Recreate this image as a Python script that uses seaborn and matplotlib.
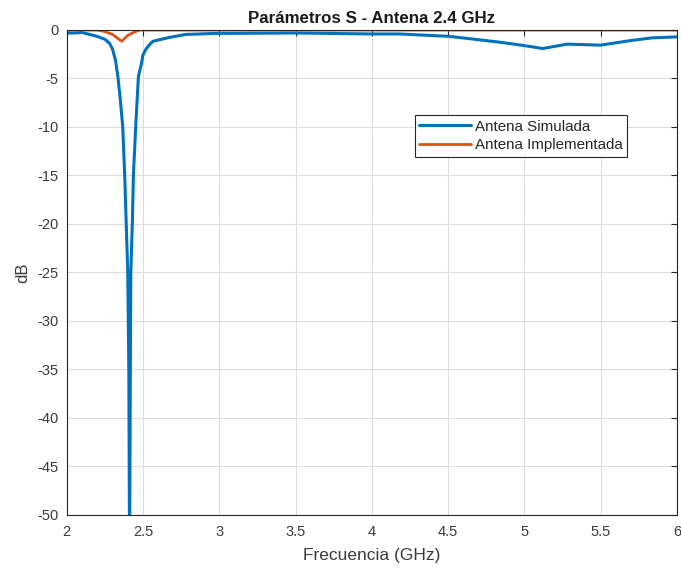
import matplotlib
matplotlib.use("Agg")
import matplotlib.pyplot as plt
import seaborn as sns
import pandas as pd

# ---- data ----
freq_sim = [2.00, 2.05, 2.10, 2.15, 2.20, 2.25, 2.28, 2.30, 2.32, 2.335, 2.35, 2.367,
            2.38, 2.39, 2.40, 2.407, 2.412, 2.417, 2.42, 2.43, 2.437, 2.452, 2.47,
            2.49, 2.50, 2.52, 2.54, 2.566, 2.62, 2.675, 2.78, 2.96, 3.5, 4.0, 4.18,
            4.51, 4.84, 5.0, 5.12, 5.28, 5.5, 5.71, 5.84, 6.0]
db_sim = [-0.35, -0.35, -0.3, -0.5, -0.7, -1.0, -1.4, -2.0, -3.2, -4.8, -7.0, -10,
          -15, -20, -25, -35, -55, -35, -25, -20, -15, -10, -4.8,
          -3.5, -2.6, -2.0, -1.6, -1.2, -1.0, -0.8, -0.5, -0.4, -0.35, -0.45, -0.45,
          -0.7, -1.3, -1.65, -1.95, -1.5, -1.6, -1.1, -0.85, -0.75]

freq_imp = [2.0, 2.2, 2.25, 2.30, 2.36, 2.40, 2.45, 2.48, 6.0]
db_imp = [-0.05, -0.05, -0.2, -0.5, -1.2, -0.6, -0.2, -0.05, -0.05]

series_names = ["Antena Simulada", "Antena Implementada"]
colors = ["#0072BD", "#D95319"]

xticks = [2, 2.5, 3, 3.5, 4, 4.5, 5, 5.5, 6]
xtick_labels = ["2", "2.5", "3", "3.5", "4", "4.5", "5", "5.5", "6"]
yticks = [0, -5, -10, -15, -20, -25, -30, -35, -40, -45, -50]

title = "Parámetros S - Antena 2.4 GHz"
xlabel = "Frecuencia (GHz)"
ylabel = "dB"

# ---- plot ----
sns.set_theme(style="white")
plt.rcParams["font.family"] = ["Liberation Sans", "DejaVu Sans"]
plt.rcParams["axes.unicode_minus"] = False

fig = plt.figure(figsize=(6.81, 5.69), dpi=100)
ax = fig.add_axes([0.098, 0.095, 0.896, 0.853])

sns.lineplot(x=freq_sim, y=db_sim, ax=ax, color=colors[0], linewidth=2.2,
             label=series_names[0], estimator=None, sort=False)
sns.lineplot(x=freq_imp, y=db_imp, ax=ax, color=colors[1], linewidth=2.0,
             label=series_names[1], estimator=None, sort=False)

ax.set_xlim(2, 6)
ax.set_ylim(-50, 0)
ax.set_xticks(xticks)
ax.set_xticklabels(xtick_labels)
ax.set_yticks(yticks)
ax.set_yticklabels([str(v) for v in yticks])

ax.grid(True, color="#dcdcdc", linewidth=0.8)
ax.set_axisbelow(True)
for s in ax.spines.values():
    s.set_color("#262626")
    s.set_linewidth(0.8)
ax.tick_params(direction="in", length=4, width=0.8, color="#262626",
               labelcolor="#3a3a3a", top=True, right=True, labelsize=10.5)
ax.tick_params(axis="x", pad=7)
ax.tick_params(axis="y", pad=6)

ax.set_title(title, fontsize=12.2, fontweight="bold", pad=5, color="#1a1a1a")
ax.set_xlabel(xlabel, fontsize=12.5, color="#3a3a3a", labelpad=7)
ax.set_ylabel(ylabel, fontsize=12, color="#3a3a3a", labelpad=5)

leg = ax.legend(loc="upper left", bbox_to_anchor=(0.57, 0.824), fontsize=10.9,
                frameon=True, fancybox=False, framealpha=1, edgecolor="#262626",
                borderpad=0.3, handlelength=3.4, handletextpad=0.3,
                labelspacing=0.3, borderaxespad=0)
leg.get_frame().set_linewidth(0.8)

fig.savefig("out.png", dpi=100)
